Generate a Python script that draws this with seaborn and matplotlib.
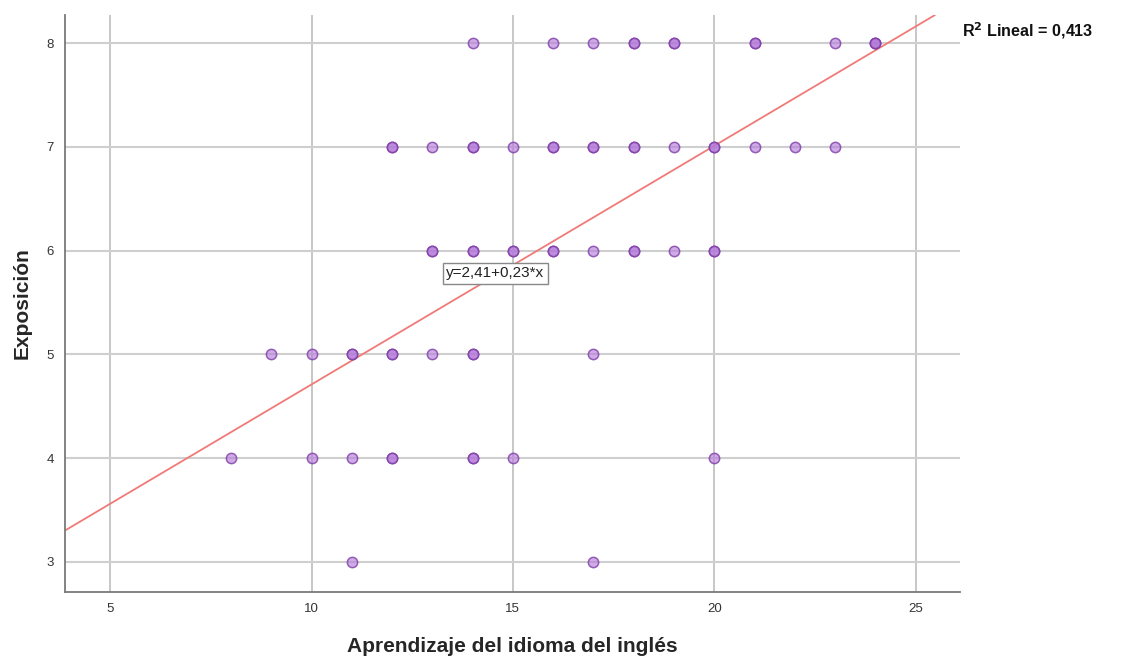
import numpy as np
import pandas as pd
import matplotlib
matplotlib.use("Agg")
import matplotlib.pyplot as plt
import seaborn as sns

# Data (duplicates mark overlapping points that appear darker)
aprendizaje = [14, 16, 17, 18, 18, 19, 19, 21, 21, 23, 24, 24, 24,
               12, 12, 13, 14, 14, 15, 16, 16, 17, 17, 18, 18, 19, 20, 20, 21, 22, 23,
               13, 13, 14, 14, 15, 15, 16, 16, 17, 18, 18, 19, 20, 20,
               9, 10, 11, 11, 12, 12, 13, 14, 14, 17,
               8, 10, 11, 12, 12, 14, 14, 15, 20,
               11, 17]
exposicion = [8] * 13 + [7] * 18 + [6] * 14 + [5] * 10 + [4] * 9 + [3] * 2
intercept = 2.41
slope = 0.23
r2_text = "0,413"
x_ticks = [5, 10, 15, 20, 25]
y_ticks = [3, 4, 5, 6, 7, 8]

df = pd.DataFrame({"x": aprendizaje, "y": exposicion})

sns.set_style("white")
plt.rcParams["font.family"] = ["Liberation Sans", "DejaVu Sans"]

fig = plt.figure(figsize=(11.23, 6.56), dpi=100)
ax = fig.add_axes([0.0579, 0.0976, 0.8548 - 0.0579, 0.977 - 0.0976])

ax.set_xlim(3.88, 26.1)
ax.set_ylim(2.71, 8.27)
ax.set_xticks(x_ticks)
ax.set_yticks(y_ticks)
ax.xaxis.grid(True, color="#bdbdbd", linewidth=1.2)
ax.yaxis.grid(True, color="#cfcfcf", linewidth=1.5)
ax.set_axisbelow(True)

for s in ["top", "right"]:
    ax.spines[s].set_visible(False)
for s in ["left", "bottom"]:
    ax.spines[s].set_color("#7a7a7a")
    ax.spines[s].set_linewidth(1.3)

sns.scatterplot(data=df, x="x", y="y", ax=ax, s=55,
                color=(0.7, 0.47, 0.85, 0.62),
                edgecolor=(0.5, 0.25, 0.66, 0.82), linewidth=1.1, zorder=3)

ax.axline((0, intercept), slope=slope, color="#f07a78", linewidth=1.3, zorder=2)

ax.tick_params(axis="both", length=0, labelsize=9.5, labelcolor="#333333", pad=8)
ax.set_xlabel("Aprendizaje del idioma del inglés", fontsize=15, fontweight="bold", labelpad=16)
ax.set_ylabel("Exposición", fontsize=15, fontweight="bold", labelpad=11)

ax.text(13.35, 5.78, "y=2,41+0,23*x", fontsize=11, va="center", ha="left", color="#222222",
        bbox=dict(boxstyle="square,pad=0.22", facecolor="white", edgecolor="#888888", linewidth=1),
        zorder=5)

fig.text(0.857, 0.953, r"R$^{\mathbf{2}}$ Lineal = " + r2_text, fontsize=11.6, fontweight="bold",
         ha="left", va="center", color="#111111")

fig.savefig("out.png", dpi=100)
